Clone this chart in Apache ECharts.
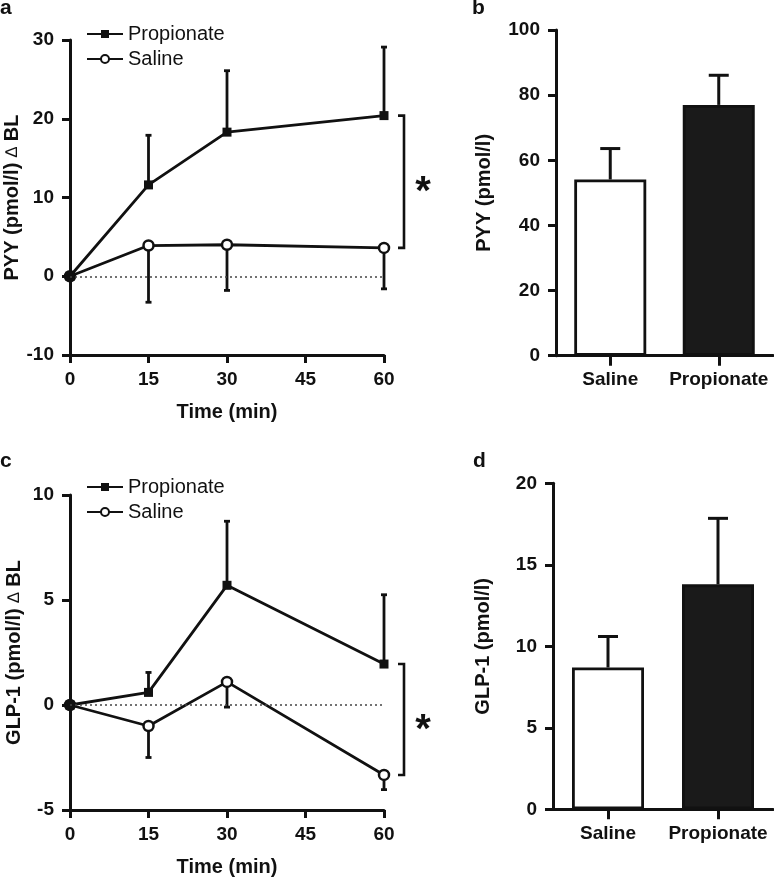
<!DOCTYPE html>
<html>
<head>
<meta charset="utf-8">
<script src="https://cdn.jsdelivr.net/npm/echarts@6/dist/echarts.min.js"></script>
<style>
html,body{margin:0;padding:0;background:#fff;}
#chart{width:774px;height:882px;}
</style>
</head>
<body>
<div id="chart"></div>
<script>
// ---------- data ----------
const timePoints = [0, 15, 30, 60];
const timeTicks = [0, 15, 30, 45, 60];

const pyyPropionate = [0, 11.6, 18.3, 20.4];
const pyyPropionateErr = [0, 6.3, 7.8, 8.7];   // upper SEM
const pyySaline = [0, 3.9, 4.0, 3.6];
const pyySalineErr = [0, 7.2, 5.8, 5.2];       // lower SEM

const glpPropionate = [0, 0.6, 5.7, 1.95];
const glpPropionateErr = [0, 0.95, 3.05, 3.3]; // upper SEM
const glpSaline = [0, -1.0, 1.1, -3.33];
const glpSalineErr = [0, 1.5, 1.2, 0.7];       // lower SEM

const barGroups = ['Saline', 'Propionate'];
const pyyTotal = [54.1, 77.0];
const pyyTotalErr = [9.5, 9.1];
const glpTotal = [8.7, 13.8];
const glpTotalErr = [1.9, 4.05];

const legendNames = ['Propionate', 'Saline'];

// ---------- styles ----------
const INK = '#111';
const FONT = '"Liberation Sans", Arial, Helvetica, sans-serif';

function pairs(xs, ys) { return xs.map((x, i) => [x, ys[i]]); }
function errData(xs, ys, es, dir) { return xs.map((x, i) => [x, ys[i], es[i], dir]); }

function errRender(capHalf, lw) {
  return function (params, api) {
    const x = api.value(0), y = api.value(1), e = api.value(2), d = api.value(3);
    if (!e) return null;
    const p0 = api.coord([x, y]);
    const p1 = api.coord([x, y + d * e]);
    return {
      type: 'group',
      children: [
        { type: 'line', shape: { x1: p0[0], y1: p0[1], x2: p1[0], y2: p1[1] }, style: { stroke: INK, lineWidth: lw } },
        { type: 'line', shape: { x1: p1[0] - capHalf, y1: p1[1], x2: p1[0] + capHalf, y2: p1[1] }, style: { stroke: INK, lineWidth: lw } }
      ]
    };
  };
}

function bracketRender(params, api) {
  const x = api.value(0), top = api.value(1), bot = api.value(2);
  const p1 = api.coord([x, top]);
  const p2 = api.coord([x, bot]);
  const bx = p1[0] + 20;
  return {
    type: 'group',
    children: [
      { type: 'polyline', shape: { points: [[bx - 6, p1[1]], [bx, p1[1]], [bx, p2[1]], [bx - 6, p2[1]]] },
        style: { stroke: INK, lineWidth: 2.6, fill: null } },
      { type: 'text', x: bx + 19, y: (p1[1] + p2[1]) / 2 + 11,
        style: { text: '*', font: 'bold 40px ' + FONT, fill: INK, align: 'center', verticalAlign: 'middle' } }
    ]
  };
}

const axisLine = { show: true, onZero: false, lineStyle: { color: INK, width: 3 } };
const axisTick = { show: true, inside: false, length: 8, lineStyle: { color: INK, width: 3 } };
const tickLabel = { color: INK, fontFamily: FONT, fontWeight: 'bold', fontSize: 19 };
const nameStyle = { color: INK, fontFamily: FONT, fontWeight: 'bold', fontSize: 20,
  rich: { t: { color: INK, fontFamily: FONT, fontWeight: 'normal', fontSize: 17 } } };

function timeAxis(gridIndex) {
  return {
    type: 'value', gridIndex, min: 0, max: 60, interval: 15,
    axisLine, axisTick,
    axisLabel: Object.assign({ margin: 15 }, tickLabel),
    splitLine: { show: false },
    name: 'Time (min)', nameLocation: 'middle', nameGap: 47, nameTextStyle: nameStyle
  };
}
function valAxis(gridIndex, min, max, interval, name, gap) {
  return {
    type: 'value', gridIndex, min, max, interval,
    axisLine, axisTick,
    axisLabel: Object.assign({ margin: 16 }, tickLabel),
    splitLine: { show: false },
    name, nameLocation: 'middle', nameGap: gap, nameTextStyle: nameStyle
  };
}
function catAxis(gridIndex) {
  return {
    type: 'category', gridIndex, data: barGroups,
    axisLine, axisTick: Object.assign({}, axisTick, { alignWithLabel: true, length: 10 }),
    axisLabel: Object.assign({ margin: 15, interval: 0, hideOverlap: false }, tickLabel),
    splitLine: { show: false }
  };
}

function lineSeries(name, data, xi, yi, isProp, withZero) {
  const s = {
    type: 'line', name, xAxisIndex: xi, yAxisIndex: yi, data,
    z: isProp ? 4 : 3,
    symbol: isProp ? 'rect' : 'circle',
    symbolSize: isProp ? 9 : 10,
    showAllSymbol: true,
    lineStyle: { color: INK, width: 2.8 },
    itemStyle: isProp ? { color: INK } : { color: '#fff', borderColor: INK, borderWidth: 2.5 },
    emphasis: { disabled: true },
    animation: false
  };
  if (withZero) {
    s.markLine = {
      silent: true, symbol: ['none', 'none'], label: { show: false },
      lineStyle: { color: '#444', type: [2, 3], width: 1.6 },
      data: [{ yAxis: 0 }]
    };
  }
  return s;
}

function legendAt(top) {
  return {
    data: legendNames, orient: 'vertical', left: 86, top, padding: 0, itemGap: 5,
    itemWidth: 36, itemHeight: 10, selectedMode: false,
    textStyle: { color: INK, fontFamily: FONT, fontSize: 20, padding: [0, 0, 0, 0] }
  };
}

const option = {
  animation: false,
  backgroundColor: '#fff',
  textStyle: { fontFamily: FONT },
  grid: [
    { left: 70, top: 40, width: 314, height: 315 },
    { left: 556, top: 30, width: 217, height: 325.7 },
    { left: 70, top: 495, width: 314, height: 315 },
    { left: 553, top: 483.3, width: 220, height: 326 }
  ],
  xAxis: [timeAxis(0), catAxis(1), timeAxis(2), catAxis(3)],
  yAxis: [
    valAxis(0, -10, 30, 10, 'PYY (pmol/l) {t|∆} BL', 46),
    valAxis(1, 0, 100, 20, 'PYY (pmol/l)', 62),
    valAxis(2, -5, 10, 5, 'GLP-1 (pmol/l) {t|∆} BL', 46),
    valAxis(3, 0, 20, 5, 'GLP-1 (pmol/l)', 60)
  ],
  legend: [legendAt(24), legendAt(477)],
  graphic: [
    { type: 'text', left: 0, top: -2, style: { text: 'a', font: 'bold 21px ' + FONT, fill: INK } },
    { type: 'text', left: 472, top: -2, style: { text: 'b', font: 'bold 21px ' + FONT, fill: INK } },
    { type: 'text', left: 0, top: 451, style: { text: 'c', font: 'bold 21px ' + FONT, fill: INK } },
    { type: 'text', left: 473, top: 451, style: { text: 'd', font: 'bold 21px ' + FONT, fill: INK } }
  ],
  series: [
    // panel a
    { type: 'custom', xAxisIndex: 0, yAxisIndex: 0, z: 1, renderItem: errRender(3, 2.8),
      data: errData(timePoints, pyySaline, pyySalineErr, -1), encode: { x: 0, y: 1 }, silent: true },
    { type: 'custom', xAxisIndex: 0, yAxisIndex: 0, z: 1, renderItem: errRender(3, 2.8),
      data: errData(timePoints, pyyPropionate, pyyPropionateErr, 1), encode: { x: 0, y: 1 }, silent: true },
    lineSeries('Saline', pairs(timePoints, pyySaline), 0, 0, false, true),
    lineSeries('Propionate', pairs(timePoints, pyyPropionate), 0, 0, true, false),
    { type: 'custom', xAxisIndex: 0, yAxisIndex: 0, z: 5, renderItem: bracketRender, silent: true,
      data: [[timePoints[3], pyyPropionate[3], pyySaline[3]]], encode: { x: 0, y: 1 } },
    // panel b
    { type: 'bar', xAxisIndex: 1, yAxisIndex: 1, barWidth: 72, z: 2, silent: true,
      data: pyyTotal.map((v, i) => ({ value: v, itemStyle: { color: i === 0 ? '#fff' : '#1a1a1a' } })),
      itemStyle: { borderColor: INK, borderWidth: 2.8 } },
    { type: 'custom', xAxisIndex: 1, yAxisIndex: 1, z: 3, renderItem: errRender(10, 3), silent: true,
      data: pyyTotal.map((v, i) => [i, v, pyyTotalErr[i], 1]), encode: { x: 0, y: 1 } },
    // panel c
    { type: 'custom', xAxisIndex: 2, yAxisIndex: 2, z: 1, renderItem: errRender(3, 2.8),
      data: errData(timePoints, glpSaline, glpSalineErr, -1), encode: { x: 0, y: 1 }, silent: true },
    { type: 'custom', xAxisIndex: 2, yAxisIndex: 2, z: 1, renderItem: errRender(3, 2.8),
      data: errData(timePoints, glpPropionate, glpPropionateErr, 1), encode: { x: 0, y: 1 }, silent: true },
    lineSeries('Saline', pairs(timePoints, glpSaline), 2, 2, false, true),
    lineSeries('Propionate', pairs(timePoints, glpPropionate), 2, 2, true, false),
    { type: 'custom', xAxisIndex: 2, yAxisIndex: 2, z: 5, renderItem: bracketRender, silent: true,
      data: [[timePoints[3], glpPropionate[3], glpSaline[3]]], encode: { x: 0, y: 1 } },
    // panel d
    { type: 'bar', xAxisIndex: 3, yAxisIndex: 3, barWidth: 72, z: 2, silent: true,
      data: glpTotal.map((v, i) => ({ value: v, itemStyle: { color: i === 0 ? '#fff' : '#1a1a1a' } })),
      itemStyle: { borderColor: INK, borderWidth: 2.8 } },
    { type: 'custom', xAxisIndex: 3, yAxisIndex: 3, z: 3, renderItem: errRender(10, 3), silent: true,
      data: glpTotal.map((v, i) => [i, v, glpTotalErr[i], 1]), encode: { x: 0, y: 1 } }
  ]
};

const chart = echarts.init(document.getElementById('chart'), null, { renderer: 'canvas' });
chart.setOption(option);
</script>
</body>
</html>
